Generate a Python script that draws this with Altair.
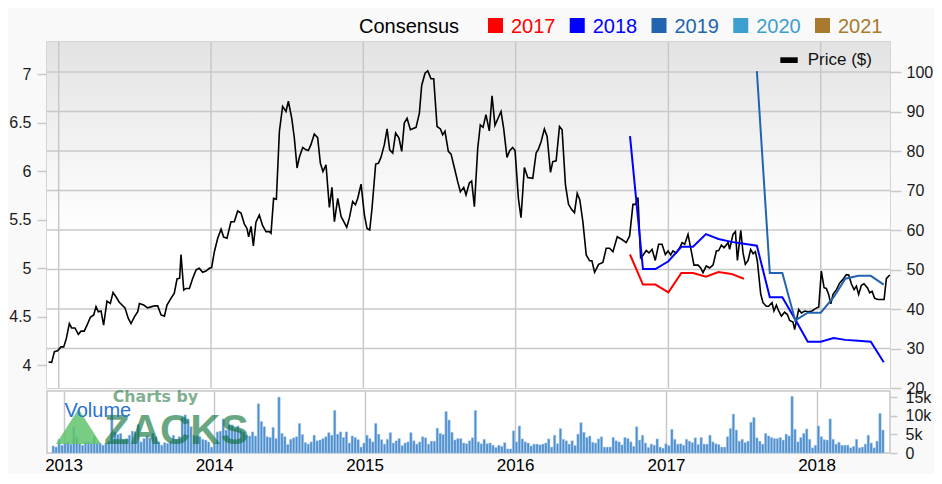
import altair as alt
import numpy as np
import pandas as pd

FONT = "Liberation Sans"
GRID = "#c8c8c8"

# ---------------- data ----------------
PRICE_T = [
    2012.934, 2012.954, 2012.972, 2012.993, 2013.015, 2013.033, 2013.050, 2013.070, 2013.085, 2013.107,
    2013.129, 2013.147, 2013.168, 2013.186, 2013.208, 2013.230, 2013.245, 2013.260, 2013.278, 2013.295,
    2013.317, 2013.339, 2013.357, 2013.376, 2013.398, 2013.435, 2013.457, 2013.475, 2013.497, 2013.519,
    2013.530, 2013.558, 2013.584, 2013.611, 2013.632, 2013.650, 2013.672, 2013.694, 2013.711, 2013.737,
    2013.759, 2013.777, 2013.794, 2013.803, 2013.821, 2013.836, 2013.858, 2013.880, 2013.902, 2013.923,
    2013.945, 2013.967, 2013.989, 2014.004, 2014.022, 2014.044, 2014.066, 2014.083, 2014.105, 2014.131,
    2014.153, 2014.175, 2014.197, 2014.219, 2014.236, 2014.247, 2014.263, 2014.278, 2014.295, 2014.317,
    2014.339, 2014.361, 2014.383, 2014.394, 2014.411, 2014.429, 2014.449, 2014.470, 2014.492, 2014.508,
    2014.530, 2014.547, 2014.565, 2014.580, 2014.602, 2014.624, 2014.639, 2014.656, 2014.678, 2014.700,
    2014.718, 2014.735, 2014.755, 2014.777, 2014.794, 2014.810, 2014.832, 2014.854, 2014.891, 2014.908,
    2014.930, 2014.948, 2014.963, 2014.985, 2015.007, 2015.024, 2015.042, 2015.057, 2015.081, 2015.099,
    2015.116, 2015.138, 2015.156, 2015.173, 2015.193, 2015.212, 2015.234, 2015.252, 2015.269, 2015.287,
    2015.309, 2015.346, 2015.368, 2015.383, 2015.405, 2015.423, 2015.444, 2015.462, 2015.484, 2015.506,
    2015.521, 2015.536, 2015.558, 2015.576, 2015.598, 2015.619, 2015.637, 2015.659, 2015.674, 2015.696,
    2015.711, 2015.729, 2015.751, 2015.768, 2015.786, 2015.805, 2015.827, 2015.845, 2015.864, 2015.904,
    2015.921, 2015.943, 2015.961, 2015.980, 2015.996, 2016.018, 2016.035, 2016.057, 2016.079, 2016.112,
    2016.134, 2016.149, 2016.167, 2016.188, 2016.206, 2016.228, 2016.243, 2016.265, 2016.287, 2016.304,
    2016.326, 2016.346, 2016.368, 2016.385, 2016.403, 2016.420, 2016.440, 2016.462, 2016.484, 2016.499,
    2016.517, 2016.543, 2016.571, 2016.593, 2016.615, 2016.637, 2016.665, 2016.696, 2016.724, 2016.746,
    2016.768, 2016.785, 2016.801, 2016.818, 2016.834, 2016.855, 2016.873, 2016.893, 2016.914, 2016.936,
    2016.958, 2016.980, 2016.998, 2017.015, 2017.030, 2017.052, 2017.074, 2017.090, 2017.107, 2017.129,
    2017.146, 2017.168, 2017.195, 2017.212, 2017.227, 2017.249, 2017.271, 2017.293, 2017.315, 2017.330,
    2017.348, 2017.365, 2017.392, 2017.402, 2017.424, 2017.440, 2017.453, 2017.475, 2017.490, 2017.505,
    2017.523, 2017.540, 2017.556, 2017.571, 2017.584, 2017.606, 2017.621, 2017.643, 2017.658, 2017.680,
    2017.693, 2017.709, 2017.724, 2017.742, 2017.763, 2017.781, 2017.796, 2017.818, 2017.829, 2017.855,
    2017.873, 2017.895, 2017.917, 2017.943, 2017.965, 2017.987, 2018.004, 2018.022, 2018.037, 2018.052,
    2018.066, 2018.081, 2018.103, 2018.125, 2018.146, 2018.168, 2018.184, 2018.201, 2018.219, 2018.234,
    2018.249, 2018.267, 2018.284, 2018.306, 2018.322, 2018.337, 2018.354, 2018.376, 2018.398, 2018.416,
    2018.431, 2018.453,
]
PRICE_V = [
    26.6, 26.5, 29.2, 29.4, 30.4, 30.4, 32.5, 36.3, 35.2, 35.2,
    33.6, 34.4, 34.4, 35.9, 37.9, 38.5, 40.6, 39.3, 39.5, 35.9,
    42.0, 41.4, 44.2, 43.1, 41.7, 40.3, 37.6, 36.3, 38.0, 39.3,
    41.4, 41.0, 40.3, 40.6, 40.8, 40.8, 38.5, 38.2, 41.0, 42.7,
    44.0, 47.6, 47.8, 53.8, 44.8, 45.2, 45.2, 47.8, 49.9, 50.3,
    49.3, 49.6, 50.3, 50.5, 54.5, 57.9, 60.2, 58.2, 57.9, 62.1,
    62.1, 64.8, 64.3, 61.5, 60.4, 58.3, 60.9, 56.0, 62.0, 63.8,
    61.1, 59.6, 59.6, 59.2, 68.0, 67.8, 85.0, 91.3, 90.0, 92.6,
    88.3, 83.3, 75.7, 78.4, 80.9, 80.3, 80.1, 81.6, 84.3, 83.4,
    76.9, 74.8, 76.5, 65.7, 70.8, 62.1, 68.0, 63.4, 60.7, 63.0,
    67.2, 66.4, 68.0, 71.6, 63.8, 60.4, 60.0, 65.5, 76.7, 76.9,
    78.4, 81.6, 85.6, 80.3, 79.5, 84.6, 83.3, 79.9, 87.1, 88.3,
    85.4, 86.0, 89.6, 96.6, 99.7, 100.3, 98.3, 98.3, 86.2, 85.6,
    84.1, 85.0, 79.9, 79.2, 75.7, 72.3, 69.7, 70.8, 68.9, 71.9,
    72.4, 65.9, 80.7, 86.6, 86.0, 89.2, 85.1, 94.0, 86.5, 90.0,
    85.8, 78.4, 80.1, 80.9, 80.1, 68.0, 63.1, 75.8, 73.3, 73.1,
    79.5, 80.5, 82.4, 85.6, 83.7, 74.6, 77.3, 77.5, 86.2, 85.4,
    71.4, 66.5, 65.1, 64.4, 69.3, 67.6, 62.1, 53.7, 52.2, 52.2,
    49.3, 51.3, 51.8, 55.4, 55.4, 54.5, 58.3, 57.6, 56.8, 58.5,
    66.5, 66.5, 68.2, 53.0, 53.6, 54.8, 54.2, 55.1, 52.3, 56.4,
    56.4, 53.8, 54.7, 53.7, 54.7, 54.2, 55.5, 56.8, 56.4, 58.9,
    55.5, 51.1, 51.1, 50.4, 49.2, 50.9, 50.4, 51.1, 54.7, 54.8,
    56.2, 55.5, 56.8, 55.1, 58.9, 59.6, 52.3, 59.9, 54.2, 51.3,
    52.3, 55.1, 54.0, 54.5, 52.1, 43.8, 41.6, 40.7, 40.7, 41.6,
    39.5, 41.0, 39.5, 38.2, 39.2, 38.6, 37.1, 36.7, 34.8, 39.9,
    39.0, 39.5, 39.3, 39.5, 40.1, 40.5, 49.6, 45.4, 45.2, 43.7,
    41.3, 43.7, 44.9, 46.6, 47.5, 48.7, 48.6, 46.4, 44.9, 45.8,
    43.7, 46.0, 46.4, 45.4, 44.1, 44.5, 42.7, 42.4, 42.4, 42.4,
    47.7, 48.6,
]

CONS_2017_DATES = ["2016-10-01", "2016-11-01", "2016-12-01", "2017-01-01", "2017-02-01",
                   "2017-03-01", "2017-04-01", "2017-05-01", "2017-06-01", "2017-07-01"]
CONS_2017 = [5.14, 4.83, 4.83, 4.75, 4.95, 4.95, 4.91, 4.96, 4.94, 4.89]

CONS_2018_DATES = ["2016-10-01", "2016-11-01", "2016-12-01", "2017-01-01", "2017-02-01",
                   "2017-03-01", "2017-04-01", "2017-05-01", "2017-06-01", "2017-07-01",
                   "2017-08-01", "2017-09-01", "2017-10-01", "2017-11-01", "2017-12-01",
                   "2018-01-01", "2018-02-01", "2018-03-01", "2018-04-01", "2018-05-01",
                   "2018-06-01"]
CONS_2018 = [6.36, 4.99, 4.99, 5.07, 5.22, 5.22, 5.35, 5.30, 5.27, 5.25,
             5.23, 4.70, 4.70, 4.47, 4.24, 4.24, 4.28, 4.26, 4.25, 4.24, 4.03]

CONS_2019_DATES = ["2017-08-01", "2017-09-01", "2017-10-01", "2017-11-01", "2017-12-01",
                   "2018-01-01", "2018-02-01", "2018-03-01", "2018-04-01", "2018-05-01",
                   "2018-06-01"]
CONS_2019 = [7.03, 4.95, 4.95, 4.46, 4.54, 4.54, 4.70, 4.89, 4.92, 4.92, 4.83]

LEGEND_YEARS = ["2017", "2018", "2019", "2020", "2021"]
LEGEND_COLORS = ["#ff0000", "#0000ff", "#2264b0", "#3c9fcf", "#a97a2e"]

# weekly volume, thousands of shares
VOLUME_K = [
    1.9, 1.6, 3.7, 2.1, 2.6, 3.0, 2.4, 7.1, 4.4, 2.6,
    2.1, 3.0, 3.0, 2.6, 4.4, 2.6, 2.6, 2.1, 2.6, 3.2,
    10.3, 5.7, 5.0, 5.3, 3.7, 3.9, 4.8, 5.9, 5.7, 7.7,
    3.0, 3.9, 4.6, 4.1, 5.3, 4.4, 3.0, 2.1, 2.8, 2.6,
    3.2, 4.8, 3.7, 4.4, 9.6, 10.3, 9.2, 7.1, 4.8, 4.6,
    4.4, 3.7, 3.5, 3.0, 1.6, 2.6, 5.7, 5.9, 9.2, 6.2,
    7.6, 7.6, 6.6, 7.3, 6.2, 5.7, 4.8, 4.6, 5.7,
    4.6, 13.3, 8.5, 7.1, 4.4, 4.2, 6.9, 3.9, 15.1, 5.3,
    4.4, 2.3, 3.7, 4.1, 4.4, 8.0, 5.0, 2.8, 2.4, 3.0,
    4.8, 3.3, 3.5, 3.9, 4.4, 5.5, 4.8, 11.5, 5.1, 5.7,
    4.2, 5.7, 2.7, 4.6, 4.2, 3.6, 1.6, 2.7, 4.8, 3.9,
    3.0, 8.0, 5.1, 3.6, 2.4, 3.7, 5.5, 2.7, 3.3, 3.9,
    2.0, 2.7, 3.0, 5.5, 3.3, 2.4, 3.0, 4.4, 4.1, 2.4,
    3.2, 3.2, 6.7, 5.3, 5.0, 11.2, 8.9, 5.6, 3.5, 3.9,
    3.9, 2.7,
    2.5, 3.3, 4.1, 11.5, 3.0, 2.5, 3.7, 2.5, 2.7, 2.1,
    1.5, 2.1, 1.8, 2.8, 1.1, 1.1, 6.0, 3.0, 7.3, 3.8,
    3.0, 2.7, 1.9, 2.4, 2.4, 2.2, 2.4, 2.7, 3.8, 1.6,
    4.8, 2.5, 6.6, 3.7, 3.3, 2.4, 3.3, 2.0, 5.1, 8.2,
    5.6, 4.2, 4.6, 2.9, 2.7, 3.8, 4.4, 1.6, 1.6, 1.6,
    4.2, 3.3, 3.0, 2.2, 4.2, 3.9, 3.0, 1.8, 7.1, 3.5,
    4.8, 2.7, 1.5, 2.4, 2.1, 3.8, 1.6, 1.3, 2.5,
    2.0, 6.4, 3.7, 2.4, 2.5, 2.1, 3.7, 3.2, 2.8, 4.1,
    2.3, 4.2, 2.4, 2.4, 4.8, 3.0, 2.5, 2.3, 1.6, 1.6,
    4.4, 6.6, 10.5, 6.2, 3.2, 3.7, 2.8, 3.2, 8.3, 9.6,
    4.1, 3.2, 2.4, 5.3, 4.6, 4.2, 3.9, 3.9, 4.2, 3.5,
    5.1, 4.6, 15.3, 6.4, 3.0, 4.2, 5.3, 6.5, 3.7, 1.4,
    2.1, 7.3, 4.4, 3.6, 3.5, 9.2, 3.7, 2.4, 2.9, 2.1,
    2.1, 2.1, 1.4, 1.8, 3.7, 1.4, 1.6, 2.4, 4.8, 2.7,
    1.4, 3.2, 10.7, 6.2,
]
VOL_FIRST = "2012-12-07"
VOL_LAST = "2018-06-11"

YEAR_TICKS = [2013, 2014, 2015, 2016, 2017, 2018]
PRICE_TICKS = [20, 30, 40, 50, 60, 70, 80, 90, 100]
EPS_TICKS = [4, 4.5, 5, 5.5, 6, 6.5, 7]
VOL_TICKS = [0, 5000, 10000, 15000]


# ---------------- helpers ----------------
def dec_to_ts(t):
    y = int(np.floor(t))
    s = pd.Timestamp(year=y, month=1, day=1)
    e = pd.Timestamp(year=y + 1, month=1, day=1)
    return s + (e - s) * (t - y)


price_df = pd.DataFrame({"date": [dec_to_ts(t) for t in PRICE_T], "price": PRICE_V})

cons_rows = []
for yr, dates, vals in [("2017", CONS_2017_DATES, CONS_2017),
                        ("2018", CONS_2018_DATES, CONS_2018),
                        ("2019", CONS_2019_DATES, CONS_2019)]:
    for d, v in zip(dates, vals):
        cons_rows.append({"date": pd.Timestamp(d), "eps": v, "year": yr})
cons_df = pd.DataFrame(cons_rows)

vol_df = pd.DataFrame({
    "date": pd.date_range(VOL_FIRST, VOL_LAST, periods=len(VOLUME_K)),
    "vol": [v * 1000 for v in VOLUME_K],
})
year_df = pd.DataFrame({"date": [pd.Timestamp(year=y, month=1, day=1) for y in YEAR_TICKS]})
pgrid_df = pd.DataFrame({"price": PRICE_TICKS[1:]})

x_scale = alt.Scale(domain=[alt.DateTime(year=2012, month=12, date=4),
                            alt.DateTime(year=2018, month=6, date=16)])
price_scale = alt.Scale(domain=[20, 107.6], nice=False, zero=False)
year_vals = [alt.DateTime(year=y, month=1, date=1) for y in YEAR_TICKS]

W = 843
H_PRICE = 346
H_VOL = 62

one = pd.DataFrame({"k": [0]})


def txt(s, x, y, size, color, **kw):
    return alt.Chart(one).mark_text(text=s, align="left", baseline="alphabetic", fontSize=size,
                                    color=color, font=FONT, **kw).encode(
        x=alt.value(x), y=alt.value(y))


# ---------------- price panel ----------------
gradient = alt.LinearGradient(
    gradient="linear", x1=0, x2=0, y1=0, y2=1,
    stops=[alt.GradientStop(color="#e3e3e3", offset=0),
           alt.GradientStop(color="#ffffff", offset=0.55),
           alt.GradientStop(color="#ffffff", offset=1)])

bg = alt.Chart(one).mark_rect(color=gradient).encode(
    x=alt.value(0), x2=alt.value(W), y=alt.value(0), y2=alt.value(H_PRICE))

vgrid = alt.Chart(year_df).mark_rule(color=GRID, strokeWidth=1.5).encode(
    x=alt.X("date:T", scale=x_scale, axis=None))

hgrid = alt.Chart(pgrid_df).mark_rule(color=GRID, strokeWidth=1.5).encode(
    y=alt.Y("price:Q", scale=price_scale, axis=None))

price_line = alt.Chart(price_df).mark_line(color="#000000", strokeWidth=1.6).encode(
    x=alt.X("date:T", scale=x_scale, axis=None),
    y=alt.Y("price:Q", scale=price_scale,
            axis=alt.Axis(orient="right", values=PRICE_TICKS, grid=False,
                          tickColor=GRID, tickWidth=1.5,
                          tickSize=11, domain=False, labelFontSize=16, labelColor="#1a1a1a",
                          labelPadding=5, title=None, labelFlush=False, labelOverlap=False)),
)

cons_lines = alt.Chart(cons_df).mark_line(strokeWidth=2).encode(
    x=alt.X("date:T", scale=x_scale, axis=None),
    y=alt.Y("eps:Q", scale=alt.Scale(domain=[3.764, 7.33], nice=False, zero=False),
            axis=alt.Axis(orient="left", values=EPS_TICKS, format=".1~f",
                          grid=False, tickColor=GRID, tickWidth=1.5, tickSize=10, domain=False,
                          labelFontSize=16, labelColor="#1a1a1a", labelPadding=6, title=None,
                          labelFlush=False, labelOverlap=False)),
    color=alt.Color("year:N", scale=alt.Scale(domain=LEGEND_YEARS, range=LEGEND_COLORS), legend=None),
    detail="year:N",
)

legend_layers = [txt("Consensus", 312, -9, 20, "#000000")]
for i, (yr, col) in enumerate(zip(LEGEND_YEARS, LEGEND_COLORS)):
    sx = 448.5 + 81.75 * i
    legend_layers.append(
        alt.Chart(one).mark_square(size=225, color=col, opacity=1).encode(
            x=alt.value(sx), y=alt.value(-16.5)))
    legend_layers.append(txt(yr, sx + 15.5, -9, 20, col))

price_key = alt.Chart(one).mark_rect(color="#000000").encode(
    x=alt.value(733.3), x2=alt.value(750.7), y=alt.value(15.3), y2=alt.value(21))
price_key_txt = txt("Price ($)", 760.7, 22.8, 17, "#111111")

price_panel = alt.layer(bg, vgrid, hgrid, price_line, cons_lines, *legend_layers,
                        price_key, price_key_txt).resolve_scale(y="independent").properties(
    width=W, height=H_PRICE,
    view=alt.ViewBackground(fill="#ffffff", stroke=GRID, strokeWidth=1.5))

# ---------------- volume panel ----------------
vol_bars = alt.Chart(vol_df).mark_bar(width=2.4, color="#4f8fcd", stroke="#a9cbea", strokeWidth=0.5).encode(
    x=alt.X("date:T", scale=x_scale,
            axis=alt.Axis(values=year_vals, format="%Y", labelFontSize=17, labelColor="#000000",
                          labelPadding=4, ticks=False, domain=False, grid=True, gridColor=GRID,
                          gridWidth=1.5, labelFlush=False, labelOverlap=False, title=None)),
    y=alt.Y("vol:Q", scale=alt.Scale(domain=[0, 16740], nice=False),
            axis=alt.Axis(orient="right", values=VOL_TICKS,
                          labelExpr="datum.value == 0 ? '0' : (datum.value / 1000) + 'k'",
                          grid=False, tickColor=GRID, tickWidth=1.5, tickSize=7, domain=False,
                          labelFontSize=16, labelColor="#1a1a1a", labelPadding=8, title=None,
                          labelFlush=False, labelOverlap=False)),
)

logo = alt.Chart(one).mark_point(shape="M -1 0.78 L 0 -0.78 L 1 0.78 Z", size=2025, filled=True,
                                 fill="#62c46c", opacity=0.85, strokeWidth=0).encode(
    x=alt.value(31.5), y=alt.value(35.5))
zacks = alt.Chart(one).mark_text(text="ZACKS", align="left", baseline="alphabetic", fontSize=42,
                                 font=FONT, fontWeight="bold", color="#076e32", opacity=0.6).encode(
    x=alt.value(57), y=alt.value(53.3))
charts_by = alt.Chart(one).mark_text(text="Charts by", align="left", baseline="alphabetic",
                                      fontSize=15.8, font="DejaVu Sans", fontWeight="bold",
                                      color="#2b7b46", opacity=0.6).encode(
    x=alt.value(65.7), y=alt.value(11.3))
vol_label = txt("Volume", 17.5, 25.5, 20, "#2a72d0")

vol_panel = alt.layer(vol_bars, logo, zacks, charts_by, vol_label).properties(
    width=W, height=H_VOL,
    view=alt.ViewBackground(fill="#ffffff", stroke=GRID, strokeWidth=1.5))

chart = alt.vconcat(price_panel, vol_panel, spacing=3, bounds="flush").properties(
    padding={"left": 0, "top": 8, "right": 0, "bottom": 0},
    background="#f9f9f9",
).configure(font=FONT)

chart.save("out.html", embed_options={"renderer": "svg", "actions": False})
